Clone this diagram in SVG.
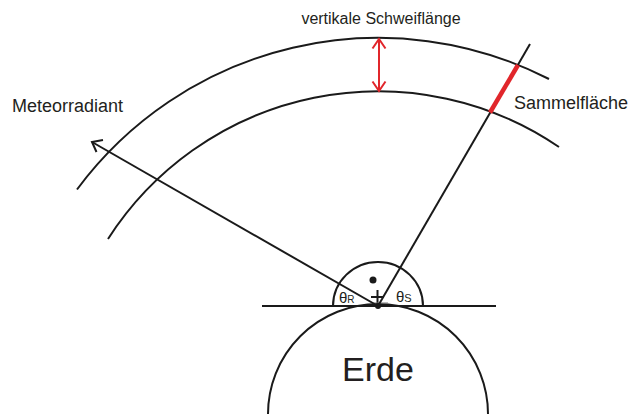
<svg xmlns="http://www.w3.org/2000/svg" width="629" height="415" viewBox="0 0 629 415">
<style>
.ln{fill:none;stroke:#1a1a1a;stroke-width:2;stroke-linecap:butt}
.red{fill:none;stroke:#e1262b;stroke-width:2}
.txt{font-family:"Liberation Sans",Arial,sans-serif;fill:#231f20}
</style>
<rect width="629" height="415" fill="#fff"/>
<g id="earth">
<path class="ln" d="M268 414 A110 110 0 0 1 488 414"/>
<text class="txt" x="378" y="381" font-size="34" text-anchor="middle">Erde</text>
</g>
<g id="horizon">
<line class="ln" x1="262" y1="306" x2="496" y2="306"/>
<path class="ln" d="M333 306 A45 44 0 0 1 423 306"/>
<circle cx="373" cy="280" r="3.5" fill="#1a1a1a"/>
<line class="ln" x1="377.5" y1="290" x2="377.5" y2="306" stroke-width="1.3"/>
<line class="ln" x1="371" y1="297" x2="384" y2="297" stroke-width="1.3"/>
<line x1="371" y1="303" x2="388" y2="303" stroke="#777" stroke-width="1"/>
<circle cx="378" cy="306" r="3" fill="#1a1a1a"/>
<text class="txt" x="339" y="302.5" font-size="15">θ<tspan font-size="10">R</tspan></text>
<text class="txt" x="396" y="302" font-size="15">θ<tspan font-size="11">S</tspan></text>
</g>
<g id="outer-layer">
<path class="ln" d="M77 189.5 A375 375 0 0 1 549 79"/>
</g>
<g id="inner-layer">
<path class="ln" d="M108 239 A321 321 0 0 1 559 147"/>
</g>
<g id="connectors">
<line class="ln" x1="378" y1="306" x2="92" y2="142"/>
<path class="ln" d="M103 140 L92 142 L96.5 152"/>
<line class="ln" x1="378" y1="306" x2="530" y2="44"/>
<line x1="490" y1="112.5" x2="518" y2="65" stroke="#e1262b" stroke-width="4.5"/>
<line class="red" x1="379" y1="39" x2="379" y2="91"/>
<path class="red" d="M372.5 48.5 L379 39 L385.5 48.5 M372.5 81.5 L379 91 L385.5 81.5"/>
</g>
<g id="labels">
<text class="txt" x="381" y="24" font-size="16" text-anchor="middle">vertikale Schweiflänge</text>
<text class="txt" x="12" y="112" font-size="18">Meteorradiant</text>
<text class="txt" x="514" y="108.5" font-size="18">Sammelfläche</text>
</g>
</svg>
